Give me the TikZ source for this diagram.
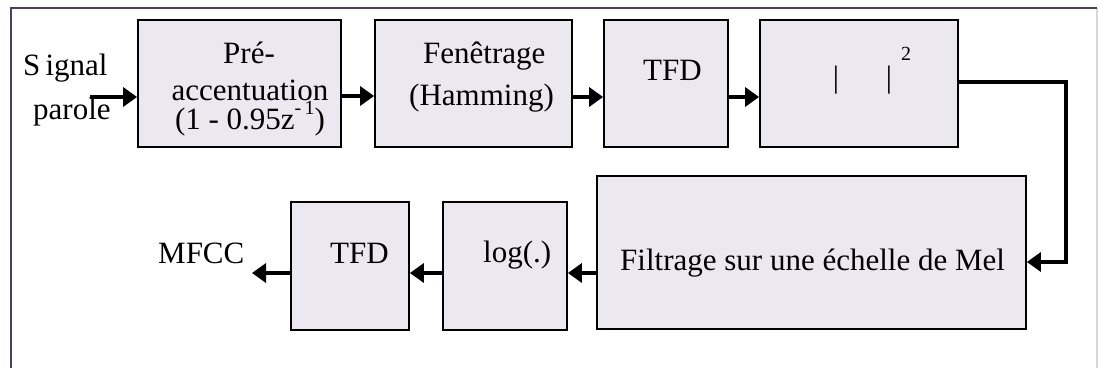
\documentclass[tikz,border=0pt]{standalone}
\usepackage{fontspec}
\setmainfont{Liberation Serif}
\usetikzlibrary{arrows.meta}
\definecolor{boxfill}{RGB}{235,232,240}
\definecolor{framec}{RGB}{75,62,100}
\definecolor{rightc}{RGB}{215,215,215}
\tikzset{
  blk/.style={draw=black, line width=1.8pt, fill=boxfill, inner sep=0pt},
  lbl/.style={font=\fontsize{31}{29}\selectfont, inner sep=0pt, align=center, anchor=base west},
  flow/.style={line width=3.4pt, -{Triangle[length=14pt,width=19pt]}},
}
\begin{document}
\begin{tikzpicture}[x=1pt,y=-1pt]
\useasboundingbox (0,0) rectangle (1098,368);
% frame
\draw[rightc, line width=1.5pt] (1097,8) -- (1097,368);
\draw[framec, line width=2.2pt] (11,368) -- (11,8) -- (1097,8);
% boxes
\node[blk, minimum width=203pt, minimum height=127pt] (b1) at (239.5,83.5) {};
\node[blk, minimum width=197pt, minimum height=127pt] (b2) at (473.5,83.5) {};
\node[blk, minimum width=124pt, minimum height=127pt] (b3) at (666,83.5) {};
\node[blk, minimum width=198pt, minimum height=127pt] (b4) at (859,83.5) {};
\node[blk, minimum width=429pt, minimum height=153pt] (mel) at (811.5,252.5) {};
\node[blk, minimum width=124pt, minimum height=128pt] (lg) at (505,266) {};
\node[blk, minimum width=118pt, minimum height=128pt] (tf) at (350,266) {};
% texts
\node[lbl] (t1a) at (223,63) {Pré-};
\node[lbl, anchor=base] (t1b) at (250,129) {accentuation\\(1 - 0.95z\raisebox{0.48em}{\fontsize{20}{20}\selectfont -\,1})};
\node[lbl] (t2a) at (423,63) {Fenêtrage};
\node[lbl] (t2b) at (409,105) {(Hamming)};
\node[lbl] (t3) at (643,80) {TFD};
\node[lbl, anchor=base] (t4a) at (836,87) {|};
\node[lbl, anchor=base] (t4b) at (889,87) {|};
\node[inner sep=0pt, font=\fontsize{20}{20}\selectfont, anchor=base] (t4c) at (906,60) {2};
\node[lbl] (tmel) at (620,270) {Filtrage sur une échelle de Mel};
\node[lbl] (tlg) at (483,262) {log(.)};
\node[lbl] (ttf) at (330,263) {TFD};
\node[lbl] (mfcc) at (158,263) {MFCC};
\node[lbl] (sig) at (23,75) {S\,ignal};
\node[lbl] (par) at (33,119) {parole};
% connectors
\coordinate (in) at (90,97);
\coordinate (out) at (252,273);
\coordinate (c1) at (1066,82);
\coordinate (c2) at (1066,262);
\draw[flow] (in) -- (in -| b1.west);
\draw[flow] (b1.east |- 0,96) -- (b2.west |- 0,96);
\draw[flow] (b2.east |- 0,97) -- (b3.west |- 0,97);
\draw[flow] (b3.east |- 0,97) -- (b4.west |- 0,97);
\draw[flow] (b4.east |- c1) -- (c1) -- (c2) -- (c2 -| mel.east);
\draw[flow] (mel.west |- 0,273) -- (lg.east |- 0,273);
\draw[flow] (lg.west |- 0,273) -- (tf.east |- 0,273);
\draw[flow] (tf.west |- out) -- (out);
\end{tikzpicture}
\end{document}
